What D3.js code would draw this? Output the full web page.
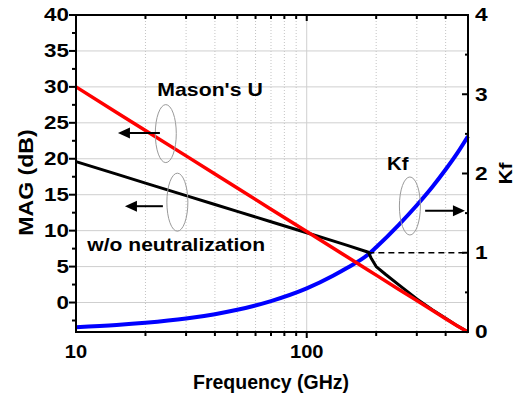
<!DOCTYPE html>
<html>
<head>
<meta charset="utf-8">
<script src="https://cdn.jsdelivr.net/npm/d3@7"></script>
<style>
  body { margin: 0; background: #fff; }
  text { font-family: "Liberation Sans", Arial, sans-serif; font-weight: bold; fill: #000; }
</style>
</head>
<body>
<div id="chart"></div>
<script>
// frequency points (GHz)
const freq = [10, 15, 20, 30, 40, 50, 70, 100, 130, 150, 185, 200, 250, 300, 350, 400, 450, 500];
// Mason's U (dB)
const masonU = [30, 26.45, 23.94, 20.4, 17.88, 15.93, 12.99, 9.87, 7.58, 6.32, 4.49, 3.81, 1.86, 0.27, -1.08, -2.25, -3.28, -4.1];
// stability factor Kf
const kf = [0.06, 0.088, 0.116, 0.17, 0.225, 0.28, 0.39, 0.55, 0.71, 0.81, 0.98, 1.07, 1.35, 1.6, 1.83, 2.05, 2.26, 2.47];
// MAG w/o neutralization (dB), own frequency grid because of the kink
const magFreq = [10, 15, 20, 30, 40, 50, 70, 100, 130, 150, 185, 190, 200, 220, 250, 300, 350, 400, 450, 500];
const mag = [19.6, 17.86, 16.62, 14.88, 13.64, 12.68, 11.23, 9.7, 8.57, 7.96, 7.0, 6.2, 5.0, 3.9, 2.5, 0.5, -1.0, -2.2, -3.25, -4.1];

const kinkFreq = 185; // where Kf reaches 1

const xTicks = [10, 20, 30, 40, 50, 60, 70, 80, 90, 100, 200, 300, 400, 500];
const xLabels = [10, 100];
const leftMajor = [0, 5, 10, 15, 20, 25, 30, 35, 40];
const leftMinor = [-2.5, 2.5, 7.5, 12.5, 17.5, 22.5, 27.5, 32.5, 37.5];
const rightMajor = [0, 1, 2, 3, 4];
const rightMinor = [0.5, 1.5, 2.5, 3.5];

const W = 515, H = 402;
const margin = { top: 15, right: 47, bottom: 70, left: 76 };
const iw = W - margin.left - margin.right;
const ih = H - margin.top - margin.bottom;

const x = d3.scaleLog().domain([10, 500]).range([0, iw]);
const yL = d3.scaleLinear().domain([-4.1, 40]).range([ih, 0]);
const yR = d3.scaleLinear().domain([0, 4]).range([ih, 0]);

const svg = d3.select('#chart').append('svg')
  .attr('width', W).attr('height', H);
const g = svg.append('g').attr('transform', `translate(${margin.left},${margin.top})`);

// gridlines
g.selectAll('.hgrid').data(leftMajor.filter(d => d < 40)).enter()
  .append('line')
  .attr('x1', 0).attr('x2', iw)
  .attr('y1', d => yL(d)).attr('y2', d => yL(d))
  .attr('stroke', '#cfcfcf').attr('stroke-width', 1);
g.selectAll('.vgrid').data(xTicks.filter(d => d > 10 && d < 500)).enter()
  .append('line')
  .attr('x1', d => x(d)).attr('x2', d => x(d))
  .attr('y1', 0).attr('y2', ih)
  .attr('stroke', d => d === 100 ? '#cfcfcf' : '#c4c4c4')
  .attr('stroke-dasharray', d => d === 100 ? null : '1,2')
  .attr('stroke-width', 1);

// stretched text helper
function label(sel, str, tx, ty, opts) {
  const o = Object.assign({ size: 17.5, sx: 1.2, anchor: 'start', rot: 0 }, opts);
  return sel.append('text')
    .attr('transform', `translate(${tx},${ty}) rotate(${o.rot}) scale(${o.sx},1)`)
    .attr('text-anchor', o.anchor)
    .attr('font-size', o.size)
    .text(str);
}

// lines
const lineL = d3.line().x(d => x(d[0])).y(d => yL(d[1]));
const lineR = d3.line().x(d => x(d[0])).y(d => yR(d[1])).curve(d3.curveMonotoneX);

g.append('path')
  .attr('d', lineR(freq.map((f, i) => [f, kf[i]])))
  .attr('fill', 'none').attr('stroke', '#0000ff').attr('stroke-width', 4);

g.append('line')
  .attr('x1', x(kinkFreq)).attr('x2', iw)
  .attr('y1', yR(1)).attr('y2', yR(1))
  .attr('stroke', '#000').attr('stroke-width', 1.5).attr('stroke-dasharray', '6,4');

g.append('path')
  .attr('d', lineL(magFreq.map((f, i) => [f, mag[i]])))
  .attr('fill', 'none').attr('stroke', '#000').attr('stroke-width', 3)
  .attr('stroke-linejoin', 'round');

g.append('path')
  .attr('d', lineL(freq.map((f, i) => [f, masonU[i]])))
  .attr('fill', 'none').attr('stroke', '#ff0000').attr('stroke-width', 3.5);

// annotations: ellipses + arrows
function ellipse(cx, cy) {
  g.append('ellipse')
    .attr('cx', cx).attr('cy', cy).attr('rx', 10.5).attr('ry', 29)
    .attr('fill', 'none').attr('stroke', '#9a9a9a').attr('stroke-width', 1);
}
function arrow(x1, x2, yy) {
  const dir = Math.sign(x2 - x1);
  g.append('line')
    .attr('x1', x1).attr('x2', x2 - dir * 10).attr('y1', yy).attr('y2', yy)
    .attr('stroke', '#000').attr('stroke-width', 2);
  g.append('path')
    .attr('d', `M${x2},${yy} L${x2 - dir * 12},${yy - 5.5} L${x2 - dir * 12},${yy + 5.5} Z`)
    .attr('fill', '#000');
}
ellipse(x(24.5), yL(23.5));
arrow(x(23.1), x(15.2), yL(23.6));
ellipse(x(27.5), yL(13.96));
arrow(x(23.8), x(16.3), yL(13.4));
ellipse(x(280), yR(1.59));
arrow(x(326), x(485), yR(1.53));

label(g, "Mason's U", x(38.1), yL(28.75), { anchor: 'middle', size: 17.7, sx: 1.2 });
label(g, 'w/o neutralization', x(11.2), yL(7.2), { size: 17.7, sx: 1.19 });
label(g, 'Kf', x(223), yR(2.04), { size: 17.7, sx: 1.15 });

// frame
g.append('rect').attr('width', iw).attr('height', ih)
  .attr('fill', 'none').attr('stroke', '#000').attr('stroke-width', 2);

// x ticks bottom (out) and top (in)
xTicks.filter(d => d > 10 && d < 500).forEach(d => {
  const big = xLabels.includes(d);
  g.append('line').attr('x1', x(d)).attr('x2', x(d))
    .attr('y1', ih).attr('y2', ih + (big ? 6 : 4)).attr('stroke', '#000').attr('stroke-width', 2);
  g.append('line').attr('x1', x(d)).attr('x2', x(d))
    .attr('y1', 0).attr('y2', big ? 6 : 4).attr('stroke', '#000').attr('stroke-width', 2);
});
xLabels.forEach(d => label(g, d, x(d), ih + 26, { anchor: 'middle', sx: 1.15 }));

// left axis ticks (out)
leftMajor.forEach(d => {
  g.append('line').attr('x1', -7).attr('x2', 0).attr('y1', yL(d)).attr('y2', yL(d))
    .attr('stroke', '#000').attr('stroke-width', 2);
  label(g, d, -7, yL(d) + 6.3, { anchor: 'end', sx: 1.28 });
});
leftMinor.forEach(d => {
  g.append('line').attr('x1', -4).attr('x2', 0).attr('y1', yL(d)).attr('y2', yL(d))
    .attr('stroke', '#000').attr('stroke-width', 2);
});

// right axis ticks (in)
rightMajor.forEach(d => {
  g.append('line').attr('x1', iw - 6).attr('x2', iw).attr('y1', yR(d)).attr('y2', yR(d))
    .attr('stroke', '#000').attr('stroke-width', 2);
  label(g, d, iw + 7, yR(d) + 6.3, { sx: 1.3 });
});
rightMinor.forEach(d => {
  g.append('line').attr('x1', iw - 3).attr('x2', iw).attr('y1', yR(d)).attr('y2', yR(d))
    .attr('stroke', '#000').attr('stroke-width', 2);
});

// axis titles
label(svg, 'Frequency (GHz)', margin.left + iw / 2 - 1, 389, { anchor: 'middle', size: 19.5, sx: 1.0 });
label(svg, 'MAG (dB)', 33, margin.top + ih / 2 + 9, { anchor: 'middle', size: 21, sx: 1.1, rot: -90 });
label(svg, 'Kf', 512, margin.top + ih / 2, { anchor: 'middle', size: 19, sx: 1.1, rot: -90 });
</script>
</body>
</html>
